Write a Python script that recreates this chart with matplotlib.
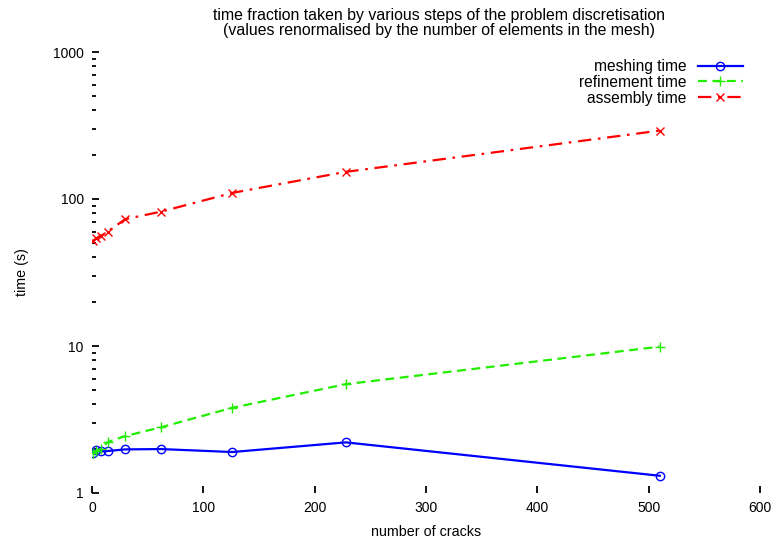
import matplotlib
matplotlib.use("Agg")
import matplotlib.pyplot as plt
from matplotlib.ticker import LogLocator, NullFormatter, FixedLocator, FixedFormatter

plt.rcParams['font.family'] = ['Liberation Sans', 'DejaVu Sans']

cracks = [1, 4, 8, 14, 30, 62, 126, 228, 510]
meshing = [1.88, 1.95, 1.92, 1.93, 1.98, 1.99, 1.90, 2.21, 1.31]
refinement = [1.88, 1.93, 2.0, 2.22, 2.44, 2.8, 3.8, 5.5, 9.9]
assembly = [52, 54, 56, 60, 73, 82, 110, 153, 292]

xticks = [0, 100, 200, 300, 400, 500, 600]
yticks = [1, 10, 100, 1000]

fig = plt.figure(figsize=(7.75, 5.45), dpi=100)
ax = fig.add_axes([92/775, 1-493/545, (760-92)/775, (493-52)/545])

ax.plot(cracks, meshing, color='#0000ff', lw=1.6, marker='o', ms=6,
        mfc='none', mec='#0000ff', mew=1.0, label='meshing time')
ax.plot(cracks, refinement, color='#22ee00', lw=1.6, ls=(0, (4, 2.5)), marker='+', ms=7,
        mew=1.0, label='refinement time')
ax.plot(cracks, assembly, color='#ff0000', lw=1.6, ls=(0, (6, 3, 1.2, 3)), marker='x', ms=6,
        mew=1.0, label='assembly time')

ax.set_yscale('log')
ax.set_xlim(0, 600)
ax.set_ylim(1, 1000)
for s in ax.spines.values():
    s.set_visible(False)

ax.xaxis.set_major_locator(FixedLocator(xticks))
ax.xaxis.set_major_formatter(FixedFormatter([str(t) for t in xticks]))
ax.yaxis.set_major_locator(FixedLocator(yticks))
ax.yaxis.set_major_formatter(FixedFormatter([str(t) for t in yticks]))
ax.yaxis.set_minor_locator(LogLocator(base=10, subs=range(2, 10)))
ax.yaxis.set_minor_formatter(NullFormatter())
ax.tick_params(axis='both', which='major', direction='in', length=5, width=1.3,
               labelsize=10, pad=6, color='black')
ax.tick_params(axis='y', which='minor', direction='in', length=3, width=1.3)
ax.tick_params(axis='x', which='minor', bottom=False)

ax.set_xlabel('number of cracks', fontsize=10.3, labelpad=7)
ax.set_ylabel('time (s)', fontsize=10.3, labelpad=17)
fig.text(439/775, 1 - 23/545, 'time fraction taken by various steps of the problem discretisation\n'
         '(values renormalised by the number of elements in the mesh)',
         ha='center', va='center', fontsize=11.4, linespacing=0.95)

leg = ax.legend(loc='upper right', bbox_to_anchor=(743/775, 1 - 59/545), bbox_transform=fig.transFigure,
                frameon=False, markerfirst=False, fontsize=11.2, handlelength=2.9,
                handletextpad=0.75, labelspacing=0.05, borderaxespad=0, borderpad=0)
for t in leg.get_texts():
    t.set_ha('right')

fig.savefig('out.png', dpi=100)
